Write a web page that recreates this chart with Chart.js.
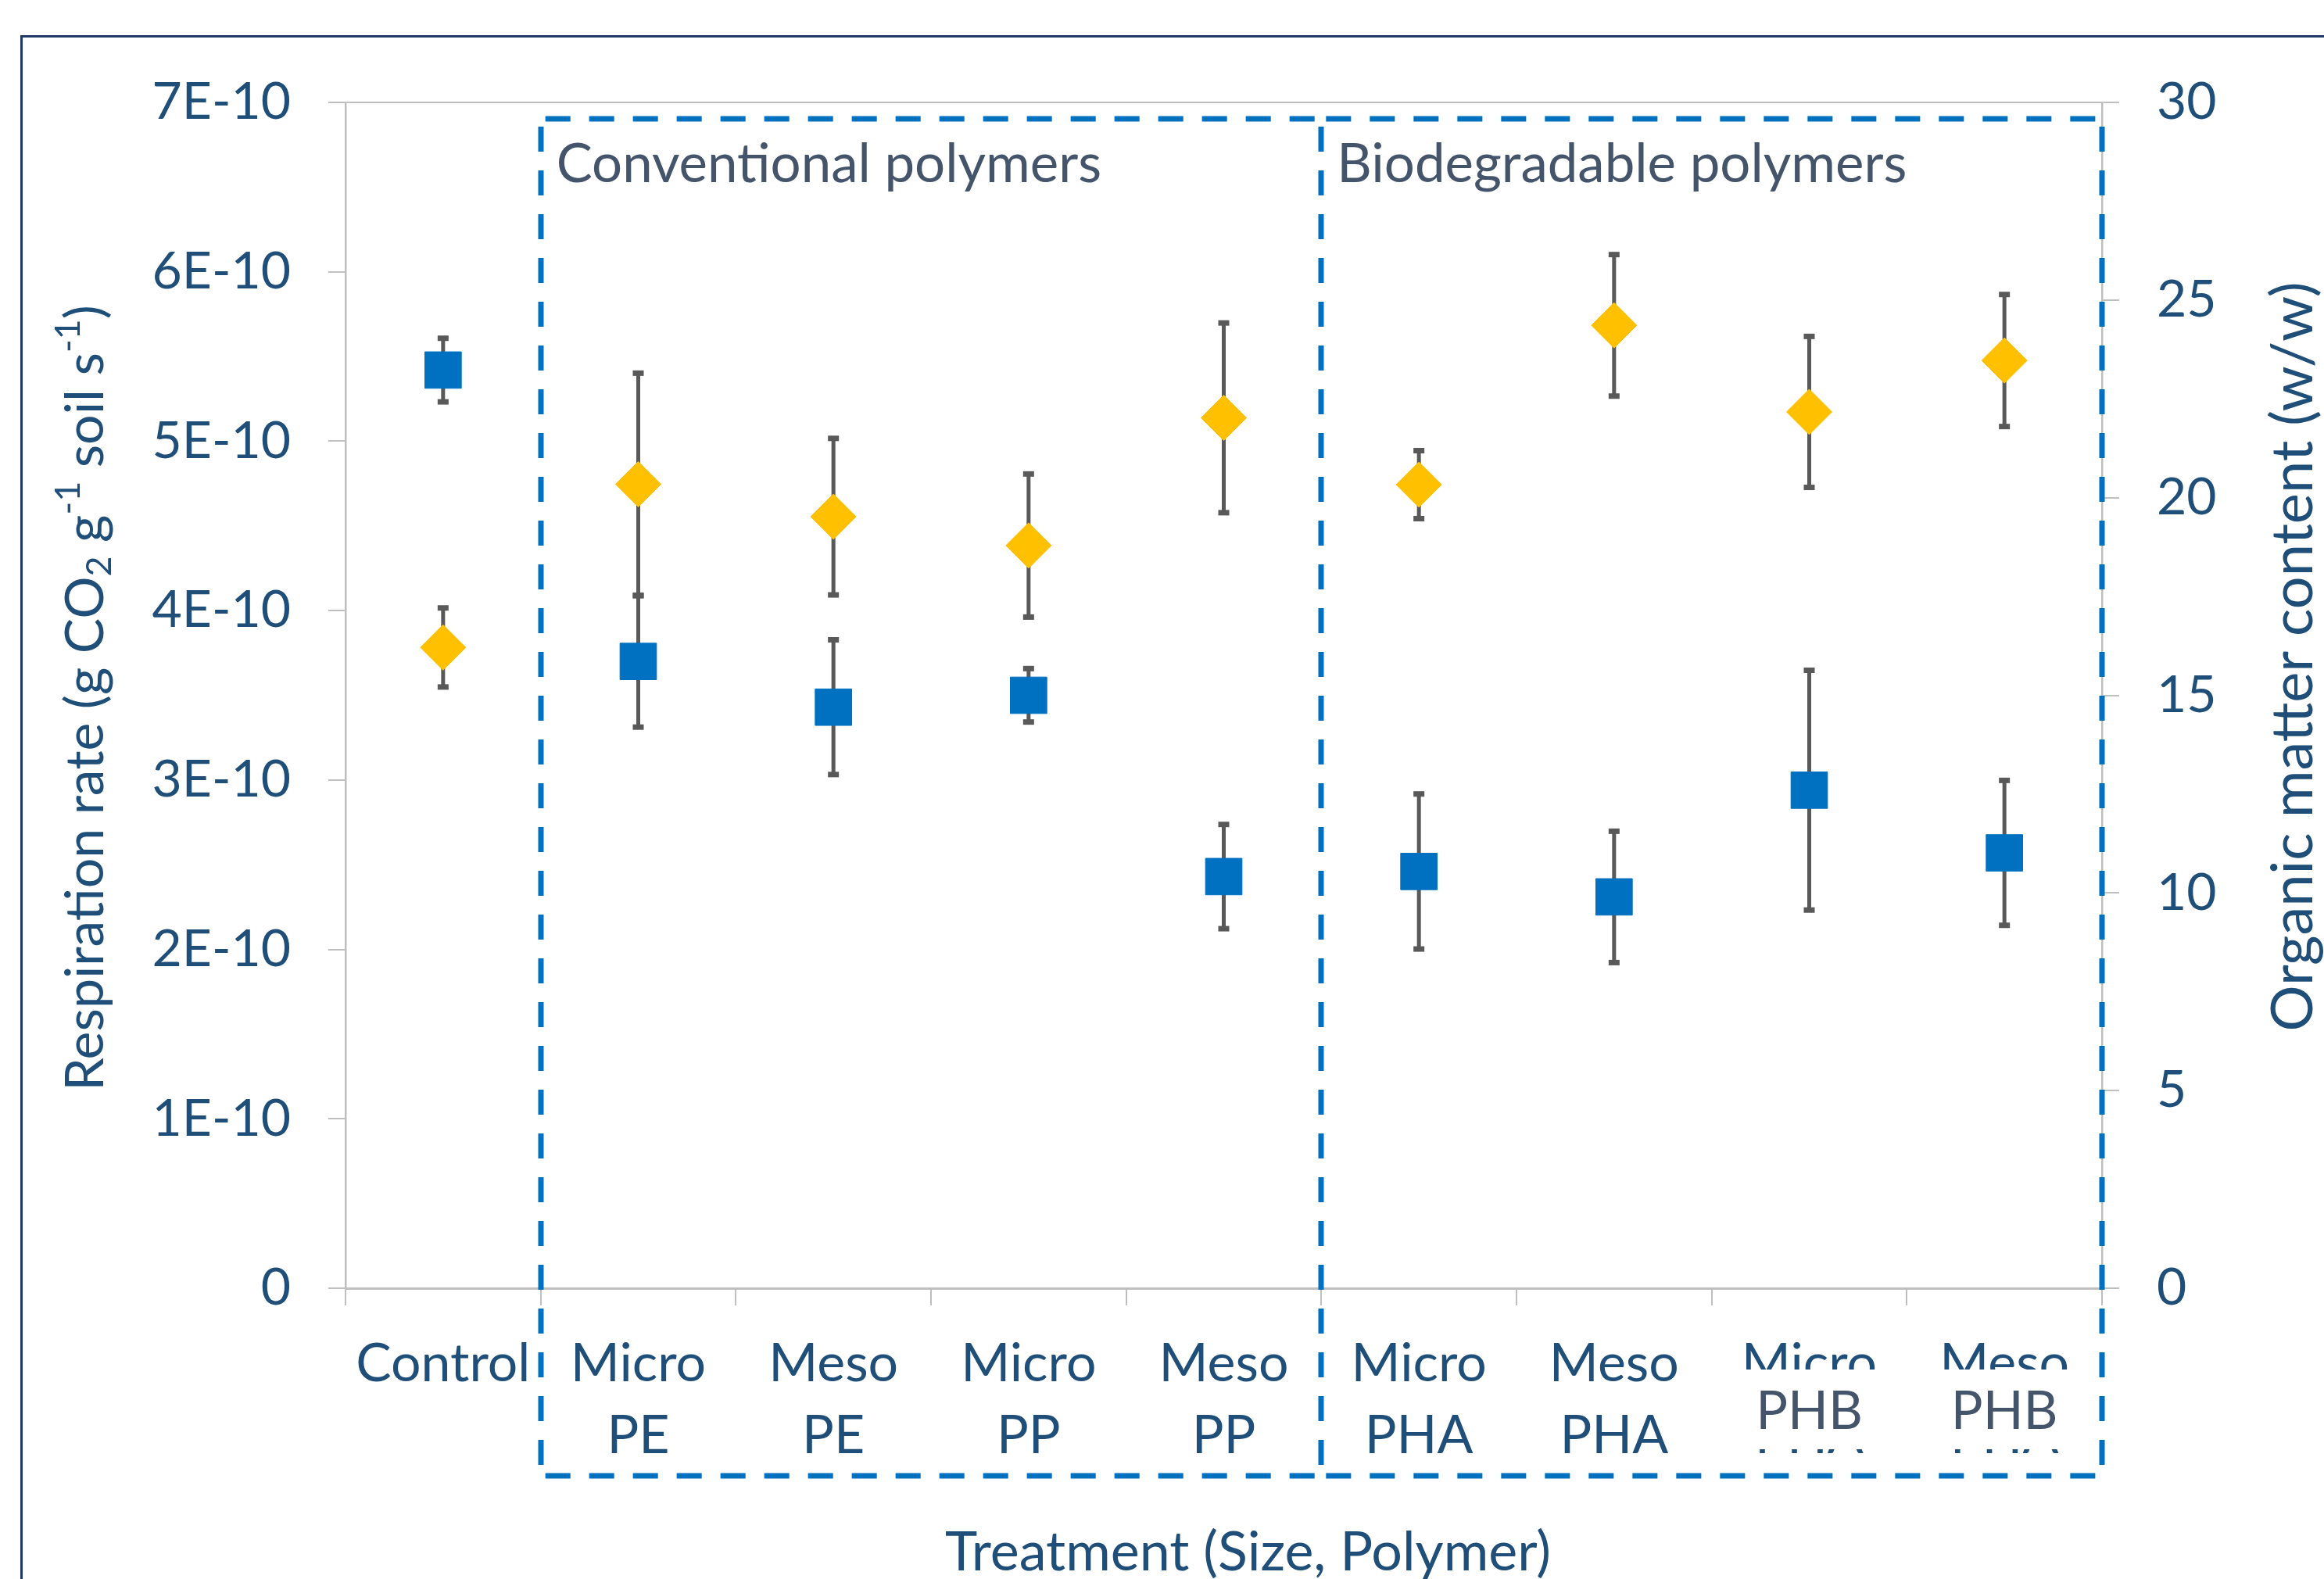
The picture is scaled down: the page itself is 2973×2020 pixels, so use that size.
<!DOCTYPE html>
<html>
<head>
<meta charset="utf-8">
<script src="https://cdn.jsdelivr.net/npm/chart.js@4.4.1/dist/chart.umd.min.js"></script>
<style>
  html, body { margin: 0; padding: 0; background: #fff; }
</style>
</head>
<body>
<canvas id="chart" width="2973" height="2020"></canvas>
<script>
// categories (last two were labelled PHA on the axis and patched with PHB text boxes)
const categories = ['Control', ['Micro', 'PE'], ['Meso', 'PE'], ['Micro', 'PP'], ['Meso', 'PP'],
  ['Micro', 'PHA'], ['Meso', 'PHA'], ['Micro', 'PHA'], ['Meso', 'PHA']];

// respiration rate, g CO2 g-1 soil s-1
const respiration = [5.42e-10, 3.70e-10, 3.43e-10, 3.50e-10, 2.43e-10, 2.46e-10, 2.31e-10, 2.94e-10, 2.57e-10];
const respirationErr = [0.19e-10, 0.39e-10, 0.40e-10, 0.16e-10, 0.31e-10, 0.46e-10, 0.39e-10, 0.71e-10, 0.43e-10];

// organic matter content (w/w)
const organic = [16.21, 20.34, 19.52, 18.79, 22.02, 20.33, 24.36, 22.17, 23.47];
const organicErr = [1.01, 2.82, 1.99, 1.82, 2.41, 0.87, 1.80, 1.92, 1.68];

const leftTicks = [0, 1e-10, 2e-10, 3e-10, 4e-10, 5e-10, 6e-10, 7e-10];
const rightTicks = [0, 5, 10, 15, 20, 25, 30];

const groups = [
  { text: 'Conventional polymers', first: 1, last: 4 },
  { text: 'Biodegradable polymers', first: 5, last: 8 }
];
const patchText = 'PHB';
const patchCats = [7, 8];

const FONT = 'Lato, "Open Sans", sans-serif';
const AXIS_BLUE = '#1F4E79';
const SLATE = '#44546A';
const GRID = '#BFBFBF';

Chart.defaults.font.family = FONT;

const annotate = {
  id: 'annotate',
  beforeDraw(chart) {
    const c = chart.ctx;
    c.save();
    c.fillStyle = '#fff';
    c.fillRect(0, 0, chart.width, chart.height);
    c.strokeStyle = '#1F3864';
    c.lineWidth = 3;
    c.strokeRect(27.5, 46.5, chart.width + 100, chart.height + 100);
    c.restore();
  },
  beforeDatasetsDraw(chart) {
    const c = chart.ctx;
    const xs = chart.scales.x;
    const sets = [[respiration, respirationErr, 'y'], [organic, organicErr, 'y1']];
    c.save();
    c.strokeStyle = '#595959';
    c.fillStyle = '#595959';
    c.lineWidth = 5;
    sets.forEach(([vals, errs, axis]) => {
      const ys = chart.scales[axis];
      vals.forEach((v, i) => {
        const x = xs.getPixelForValue(i);
        const top = ys.getPixelForValue(v + errs[i]);
        const bot = ys.getPixelForValue(v - errs[i]);
        c.beginPath();
        c.moveTo(x, top);
        c.lineTo(x, bot);
        c.stroke();
        c.fillRect(x - 7, top - 3, 14, 7);
        c.fillRect(x - 7, bot - 4, 14, 7);
      });
    });
    c.restore();
  },
  afterDraw(chart) {
    const c = chart.ctx;
    const xs = chart.scales.x;
    const area = chart.chartArea;
    c.save();

    // white patch over the wrong axis labels, with the corrected text
    const pl = xs.getPixelForValue(patchCats[0] - 0.5) + 8;
    const pr = xs.getPixelForValue(patchCats[patchCats.length - 1] + 0.5) - 16;
    c.fillStyle = '#fff';
    c.fillRect(pl, 1752, pr - pl, 102);
    c.fillStyle = SLATE;
    c.font = '68px ' + FONT;
    c.textAlign = 'center';
    c.textBaseline = 'middle';
    patchCats.forEach(i => c.fillText(patchText, xs.getPixelForValue(i), 1806));

    // dashed group boxes
    const top = area.top + 21;
    const bottom = area.bottom + 240;
    c.strokeStyle = '#0070C0';
    c.lineWidth = 7;
    c.setLineDash([32, 24]);
    const vx = new Set();
    groups.forEach(g => {
      const l = xs.getPixelForValue(g.first - 0.5);
      const r = xs.getPixelForValue(g.last + 0.5);
      vx.add(Math.round(l));
      vx.add(Math.round(r));
      [top, bottom].forEach(y => {
        c.beginPath();
        c.moveTo(l + 6, y);
        c.lineTo(r, y);
        c.stroke();
      });
    });
    vx.forEach(x => {
      c.beginPath();
      c.moveTo(x, top + 10);
      c.lineTo(x, bottom);
      c.stroke();
    });
    c.setLineDash([]);

    c.fillStyle = SLATE;
    c.textAlign = 'left';
    c.font = '69px ' + FONT;
    groups.forEach(g => {
      const l = xs.getPixelForValue(g.first - 0.5);
      c.fillText(g.text, l + 20, area.top + 80);
    });

    // axis titles
    c.fillStyle = AXIS_BLUE;
    c.textAlign = 'center';
    c.font = '70px ' + FONT;
    c.fillText('Treatment (Size, Polymer)', (area.left + area.right) / 2 + 31, 1986);

    c.save();
    c.translate(2934, 840);
    c.rotate(-Math.PI / 2);
    c.font = '74px ' + FONT;
    c.fillText('Organic matter content (w/w)', 0, 0);
    c.restore();

    const parts = [
      { t: 'Respiration rate (g CO', s: 68, dy: 0 },
      { t: '2', s: 45, dy: 17 },
      { t: ' g', s: 68, dy: 0 },
      { t: '-1', s: 45, dy: -23 },
      { t: ' soil s', s: 68, dy: 0 },
      { t: '-1', s: 45, dy: -23 },
      { t: ')', s: 68, dy: 0 }
    ];
    c.save();
    c.translate(110, 893);
    c.rotate(-Math.PI / 2);
    c.textAlign = 'left';
    let total = 0;
    parts.forEach(p => {
      c.font = p.s + 'px ' + FONT;
      p.w = c.measureText(p.t).width;
      total += p.w;
    });
    let x = -total / 2;
    parts.forEach(p => {
      c.font = p.s + 'px ' + FONT;
      c.fillText(p.t, x, p.dy);
      x += p.w;
    });
    c.restore();

    c.restore();
  }
};

const tickFont = { family: FONT, size: 66 };

new Chart(document.getElementById('chart'), {
  type: 'line',
  data: {
    labels: categories,
    datasets: [
      {
        label: 'Respiration rate',
        data: respiration,
        yAxisID: 'y',
        showLine: false,
        pointStyle: 'rect',
        pointRadius: 33,
        pointBackgroundColor: '#0070C0',
        pointBorderColor: '#0070C0',
        pointBorderWidth: 1
      },
      {
        label: 'Organic matter content',
        data: organic,
        yAxisID: 'y1',
        showLine: false,
        pointStyle: 'rectRot',
        pointRadius: 29,
        pointBackgroundColor: '#FFC000',
        pointBorderColor: '#FFC000',
        pointBorderWidth: 1
      }
    ]
  },
  options: {
    responsive: false,
    devicePixelRatio: 1,
    animation: false,
    events: [],
    layout: { padding: { left: 0, right: 0, top: 131, bottom: 0 } },
    plugins: { legend: { display: false }, tooltip: { enabled: false } },
    scales: {
      x: {
        type: 'category',
        offset: true,
        afterFit: s => { s.height = 372; },
        grid: {
          offset: true,
          drawOnChartArea: false,
          tickLength: 22,
          color: GRID,
          lineWidth: 2
        },
        border: { display: true, color: GRID, width: 3 },
        ticks: {
          autoSkip: false,
          maxRotation: 0,
          minRotation: 0,
          padding: 30,
          color: AXIS_BLUE,
          font: { family: FONT, size: 68, lineHeight: 1.34 }
        }
      },
      y: {
        position: 'left',
        min: leftTicks[0],
        max: leftTicks[leftTicks.length - 1],
        afterFit: s => { s.width = 442; },
        afterBuildTicks: s => { s.ticks = leftTicks.map(v => ({ value: v })); },
        grid: {
          color: ctx => (ctx.index === leftTicks.length - 1 ? GRID : 'rgba(0,0,0,0)'),
          tickColor: GRID,
          tickLength: 22,
          lineWidth: 2
        },
        border: { display: true, color: GRID, width: 2.5 },
        ticks: {
          padding: 48,
          color: AXIS_BLUE,
          font: tickFont,
          callback: v => (v === 0 ? '0' : Math.round(v * 1e10) + 'E-10')
        }
      },
      y1: {
        position: 'right',
        min: rightTicks[0],
        max: rightTicks[rightTicks.length - 1],
        afterFit: s => { s.width = 284; },
        afterBuildTicks: s => { s.ticks = rightTicks.map(v => ({ value: v })); },
        grid: {
          drawOnChartArea: false,
          color: GRID,
          tickLength: 22,
          lineWidth: 2
        },
        border: { display: true, color: GRID, width: 2.5 },
        ticks: {
          padding: 48,
          color: AXIS_BLUE,
          font: tickFont
        }
      }
    }
  },
  plugins: [annotate]
});
</script>
</body>
</html>
